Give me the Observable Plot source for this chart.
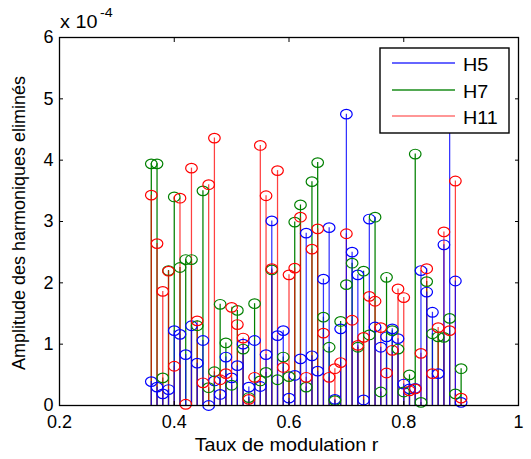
<!DOCTYPE html>
<html>
<head>
<meta charset="utf-8">
<script src="https://cdn.jsdelivr.net/npm/d3@7"></script>
<script src="https://cdn.jsdelivr.net/npm/@observablehq/plot@0.6"></script>
<style>
  html, body { margin: 0; padding: 0; background: #fff; }
  #chart svg { display: block; font-family: "Liberation Sans", Arial, sans-serif; }
</style>
</head>
<body>
<div id="chart"></div>
<script>
// Modulation ratio r
const rValues = [0.36, 0.37, 0.38, 0.39, 0.40, 0.41, 0.42, 0.43, 0.44, 0.45,
                 0.46, 0.47, 0.48, 0.49, 0.50, 0.51, 0.52, 0.53, 0.54, 0.55,
                 0.56, 0.57, 0.58, 0.59, 0.60, 0.61, 0.62, 0.63, 0.64, 0.65,
                 0.66, 0.67, 0.68, 0.69, 0.70, 0.71, 0.72, 0.73, 0.74, 0.75,
                 0.76, 0.77, 0.78, 0.79, 0.80, 0.81, 0.82, 0.83, 0.84, 0.85,
                 0.86, 0.87, 0.88, 0.89, 0.90];

// Residual amplitudes of the eliminated harmonics (x 1e-4)
const h5 = [0.39, 0.30, 0.19, 0.26, 1.22, 1.16, 0.83, 1.30, 0.69, 1.06,
            0.00, 0.40, 0.18, 0.79, 0.45, 0.65, 1.00, 0.30, 1.06, 0.31,
            0.83, 3.01, 1.14, 1.22, 0.12, 0.49, 0.76, 2.81, 0.81, 0.56,
            2.06, 2.90, 0.10, 1.25, 4.75, 2.50, 2.13, 0.09, 3.04, 1.28,
            0.95, 1.12, 1.25, 1.09, 0.35, 0.27, 0.28, 2.20, 1.85, 1.52,
            0.52, 2.62, 5.20, 2.03, 0.05];
const h7 = [3.94, 3.94, 0.45, 2.20, 3.40, 2.25, 2.38, 2.38, 1.30, 3.50,
            0.29, 0.55, 1.65, 1.02, 0.33, 1.55, 0.92, 0.13, 1.66, 0.40,
            0.54, 2.21, 0.42, 0.79, 0.47, 2.99, 3.27, 0.30, 3.65, 3.96,
            1.44, 0.95, 0.08, 1.37, 1.97, 2.32, 0.95, 2.19, 1.15, 3.07,
            0.22, 2.09, 1.22, 0.92, 0.22, 0.50, 4.10, 0.05, 2.02, 1.17,
            1.12, 1.11, 1.42, 0.19, 0.60];
const h11 = [3.43, 2.64, 1.86, 2.19, 0.64, 3.38, 0.02, 3.87, 1.38, 0.37,
             3.60, 4.36, 0.42, 0.52, 1.60, 1.32, 1.10, 0.10, 0.46, 4.24,
             3.42, 2.23, 3.83, 0.62, 2.13, 2.24, 3.07, 0.46, 2.55, 2.88,
             1.18, 0.46, 0.60, 0.70, 2.80, 1.39, 0.98, 1.11, 1.78, 1.70,
             1.27, 0.53, 0.90, 1.90, 1.76, 0.24, 0.27, 0.85, 2.23, 0.52,
             1.27, 2.83, 1.22, 3.66, 0.12];

const seriesNames = ["H5", "H7", "H11"];
const seriesColors = ["#0000ff", "#008000", "#ff0000"];
const stemOpacity = [0.8, 1, 0.75];

const xTicks = [0.2, 0.4, 0.6, 0.8, 1];
const xTickLabels = ["0.2", "0.4", "0.6", "0.8", "1"];
const yTicks = [0, 1, 2, 3, 4, 5, 6];
const yTickLabels = ["0", "1", "2", "3", "4", "5", "6"];

const xLabel = "Taux de modulation r";
const yLabel = "Amplitude des harmoniques eliminés";

// Slightly wide ellipse marker for the stem heads
const ellipse = {
  draw(ctx) {
    const rx = 5.8, ry = 4.8, k = 0.5523;
    ctx.moveTo(rx, 0);
    ctx.bezierCurveTo(rx, ry * k, rx * k, ry, 0, ry);
    ctx.bezierCurveTo(-rx * k, ry, -rx, ry * k, -rx, 0);
    ctx.bezierCurveTo(-rx, -ry * k, -rx * k, -ry, 0, -ry);
    ctx.bezierCurveTo(rx * k, -ry, rx, -ry * k, rx, 0);
    ctx.closePath();
  }
};

const series = [h5, h7, h11].map((vals, s) =>
  vals.map((v, i) => ({r: rValues[i], v, s: seriesNames[s]})));

const stem = s => Plot.ruleX(series[s], {x: "r", y1: 0, y2: "v", stroke: seriesColors[s],
  strokeOpacity: stemOpacity[s], strokeWidth: 1.25});
const head = s => Plot.dot(series[s], {x: "r", y: "v", symbol: ellipse, fill: "none",
  stroke: seriesColors[s], strokeWidth: 1.2});

const W = 531, H = 459;
const mL = 59, mR = 13, mT = 37, mB = 54;

const chart = Plot.plot({
  width: W, height: H,
  marginLeft: mL, marginRight: mR, marginTop: mT, marginBottom: mB,
  style: {background: "#fff", color: "#000", fontSize: "18px",
          fontFamily: "'Liberation Sans', Arial, sans-serif"},
  x: {domain: [0.2, 1]},
  y: {domain: [0, 6]},
  marks: [
    stem(1), stem(2), stem(0),
    head(0), head(1), head(2),
    Plot.frame({stroke: "#000", strokeWidth: 1.3}),
    Plot.axisX({anchor: "bottom", ticks: xTicks, tickFormat: (d, i) => xTickLabels[i],
      tickSize: -4, tickPadding: 14, label: null, fontSize: 18}),
    Plot.axisX({anchor: "top", ticks: xTicks, tickFormat: () => "", tickSize: -4, label: null}),
    Plot.axisY({anchor: "left", ticks: yTicks, tickFormat: (d, i) => yTickLabels[i],
      tickSize: -4, tickPadding: 10, label: null, fontSize: 18}),
    Plot.axisY({anchor: "right", ticks: yTicks, tickFormat: () => "", tickSize: -4, label: null})
  ]
});

document.getElementById("chart").appendChild(chart);

const svg = d3.select(chart);
const font = "'Liberation Sans', Arial, sans-serif";

// Horizontal labels are set a little wide
const wideText = (x, y, size, str, anchor = "start") =>
  svg.append("text").attr("transform", `translate(${x},${y}) scale(1.1,1)`)
    .attr("text-anchor", anchor).attr("font-size", size).attr("font-family", font)
    .attr("fill", "#000").text(str);

// Exponent note above the y axis
wideText(60, 28, 18, "x 10");
wideText(100, 17, 13, "-4");

// Axis titles
wideText((mL + W - mR) / 2 - 2, 451, 18, xLabel, "middle");
svg.append("text").attr("transform", `translate(25,${(mT + H - mB) / 2 + 2}) rotate(-90)`)
  .attr("text-anchor", "middle").attr("font-size", 18).attr("font-family", font)
  .attr("fill", "#000").text(yLabel);

// Legend box
const lg = svg.append("g");
lg.append("rect").attr("x", 380).attr("y", 48).attr("width", 129).attr("height", 85)
  .attr("fill", "#fff").attr("stroke", "#000").attr("stroke-width", 1.4);
const legendY = [63, 90, 116];
const legendOpacity = [0.8, 0.9, 0.55];
seriesNames.forEach((name, s) => {
  lg.append("line").attr("x1", 392).attr("x2", 455)
    .attr("y1", legendY[s]).attr("y2", legendY[s])
    .attr("stroke", seriesColors[s]).attr("stroke-opacity", legendOpacity[s])
    .attr("stroke-width", 1.4);
  wideText(463, legendY[s] + 8, 18, name);
});
</script>
</body>
</html>
